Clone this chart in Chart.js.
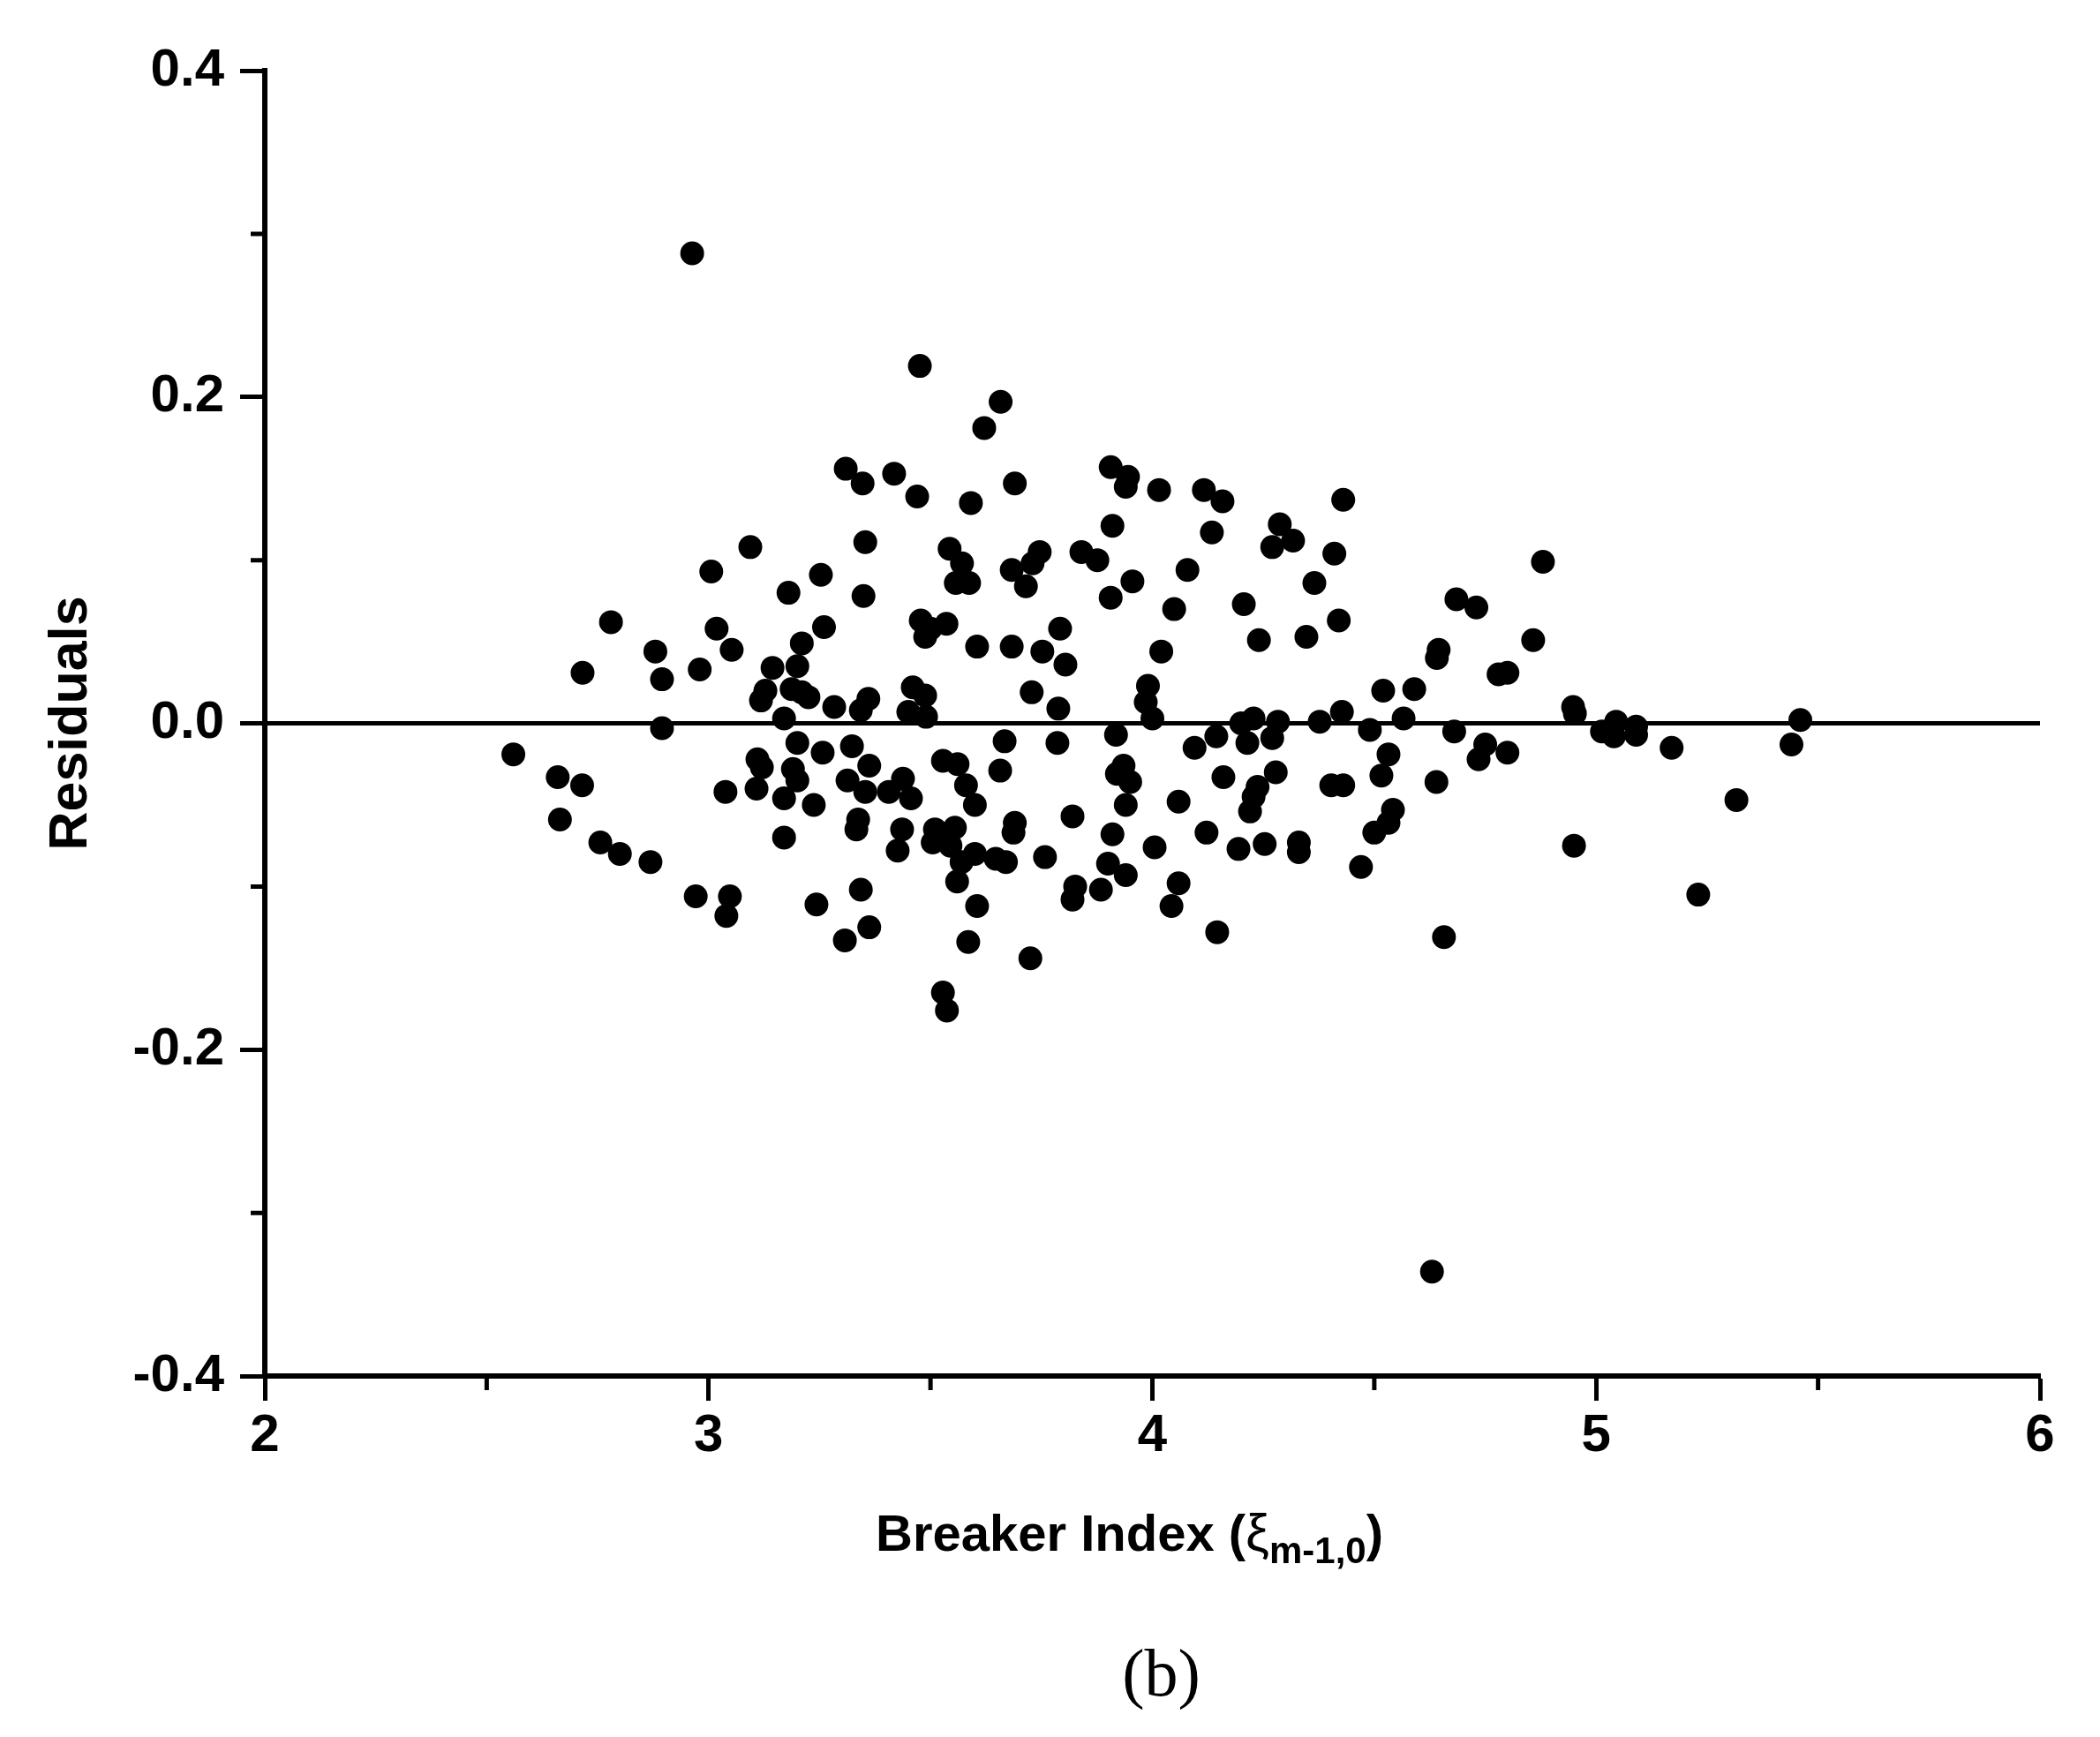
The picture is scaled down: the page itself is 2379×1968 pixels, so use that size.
<!DOCTYPE html>
<html>
<head>
<meta charset="utf-8">
<title>Residuals vs Breaker Index</title>
<script src="https://cdn.jsdelivr.net/npm/chart.js@4.4.1/dist/chart.umd.min.js"></script>
<style>
    html, body { margin: 0; padding: 0; background: #ffffff; }
    #grafico { display: block; }
</style>
</head>
<body>
<canvas id="grafico" width="2379" height="1968"></canvas>
<script>
// Residuos do ajuste em funcao do indice de arrebentacao
var breakerIndex = [
    2.56, 2.66, 2.665, 2.715, 2.716, 2.756, 2.78, 2.80, 2.869, 2.88,
    2.895, 2.895, 2.963, 2.971, 2.98, 3.006, 3.018, 3.038, 3.04, 3.048,
    3.052, 3.094, 3.11, 3.12, 3.108, 3.118, 3.128, 3.144, 3.17, 3.17,
    3.17, 3.18, 3.187, 3.19, 3.20, 3.20, 3.20, 3.21, 3.21, 3.225,
    3.237, 3.243, 3.257, 3.26, 3.253, 3.283, 3.307, 3.309, 3.313, 3.323,
    3.333, 3.337, 3.343, 3.343, 3.347, 3.349, 3.353, 3.353, 3.36, 3.362,
    3.362, 3.406, 3.418, 3.426, 3.436, 3.438, 3.45, 3.456, 3.46, 3.47,
    3.476, 3.478, 3.488, 3.488, 3.49, 3.50, 3.505, 3.51, 3.528, 3.528,
    3.536, 3.537, 3.543, 3.545, 3.555, 3.557, 3.561, 3.56, 3.57, 3.571,
    3.58, 3.585, 3.587, 3.591, 3.60, 3.60, 3.605, 3.605, 3.621, 3.647,
    3.657, 3.658, 3.667, 3.67, 3.683, 3.683, 3.687, 3.69, 3.69, 3.715,
    3.725, 3.728, 3.73, 3.746, 3.752, 3.758, 3.786, 3.788, 3.792, 3.804,
    3.82, 3.82, 3.826, 3.84, 3.876, 3.884, 3.90, 3.906, 3.906, 3.91,
    3.91, 3.918, 3.92, 3.935, 3.95, 3.94, 3.94, 3.94, 3.945, 3.955,
    3.985, 3.99, 4.00, 4.015, 4.02, 4.005, 4.043, 4.049, 4.059, 4.059,
    4.079, 4.095, 4.116, 4.122, 4.134, 4.144, 4.146, 4.158, 4.16, 4.194,
    4.20, 4.206, 4.214, 4.22, 4.228, 4.228, 4.237, 4.24, 4.253, 4.27,
    4.27, 4.278, 4.283, 4.287, 4.317, 4.33, 4.33, 4.347, 4.365, 4.377,
    4.403, 4.41, 4.42, 4.427, 4.43, 4.43, 4.47, 4.49, 4.50, 4.516,
    4.52, 4.532, 4.532, 4.542, 4.566, 4.59, 4.63, 4.64, 4.641, 4.645,
    4.657, 4.68, 4.685, 4.73, 4.735, 4.75, 4.78, 4.80, 4.80, 4.858,
    4.88, 4.948, 4.952, 4.95, 5.013, 5.045, 5.04, 5.09, 5.09, 5.17,
    5.23, 5.316, 5.44, 5.46
];

var residuals = [
    -0.019, -0.033, -0.059, -0.038, 0.031, -0.073, 0.062, -0.080, -0.085, 0.044,
    0.027, -0.003, 0.288, -0.106, 0.033, 0.093, 0.058, -0.042, -0.118, -0.106,
    0.045, 0.108, -0.022, -0.027, -0.040, 0.014, 0.020, 0.034, -0.070, 0.003,
    -0.046, 0.080, 0.021, -0.028, 0.035, -0.012, -0.035, 0.049, 0.019, 0.016,
    -0.050, -0.111, -0.018, 0.059, 0.091, 0.010, -0.133, 0.156, -0.035, -0.014,
    -0.065, -0.059, -0.102, 0.008, 0.147, 0.078, 0.111, -0.042, 0.015, -0.026,
    -0.125, -0.042, 0.153, -0.078, -0.065, -0.034, 0.007, -0.046, 0.022, 0.139,
    0.219, 0.063, 0.053, 0.017, 0.004, 0.058, -0.073, -0.065, -0.023, -0.165,
    0.061, -0.176, 0.107, -0.075, -0.064, 0.086, -0.025, -0.097, -0.085, 0.098,
    -0.038, -0.134, 0.086, 0.135, -0.080, -0.050, 0.047, -0.112, 0.181, -0.083,
    -0.029, 0.197, -0.011, -0.085, 0.094, 0.047, -0.067, -0.061, 0.147, 0.084,
    -0.144, 0.019, 0.098, 0.105, 0.044, -0.082, -0.012, 0.009, 0.058, 0.036,
    -0.057, -0.108, -0.100, 0.105, 0.100, -0.102, -0.086, 0.157, 0.077, 0.121,
    -0.068, -0.007, -0.031, -0.026, -0.036, -0.050, 0.145, -0.093, 0.151, 0.087,
    0.013, 0.023, 0.003, 0.143, 0.044, -0.076, -0.112, 0.070, -0.048, -0.098,
    0.094, -0.015, 0.143, -0.067, 0.117, -0.008, -0.128, 0.136, -0.033, -0.077,
    0.000, 0.073, -0.012, -0.054, 0.003, -0.045, -0.039, 0.051, -0.074, 0.108,
    -0.009, -0.030, 0.001, 0.122, 0.112, -0.073, -0.079, 0.053, 0.086, 0.001,
    -0.038, 0.104, 0.063, 0.007, 0.137, -0.038, -0.088, -0.004, -0.067, -0.032,
    0.020, -0.019, -0.061, -0.053, 0.003, 0.021, -0.336, -0.036, 0.040, 0.045,
    -0.131, -0.005, 0.076, 0.071, -0.022, -0.013, 0.030, 0.031, -0.018, 0.051,
    0.099, 0.010, 0.006, -0.075, -0.005, 0.001, -0.008, -0.002, -0.007, -0.015,
    -0.105, -0.047, -0.013, 0.002
];

// Eixos e rotulos
var xLimites = [2, 6];
var yLimites = [-0.4, 0.4];
var xMinorTicks = [2.5, 3.5, 4.5, 5.5];
var yMinorTicks = [-0.3, -0.1, 0.1, 0.3];
var tituloY = 'Residuals';
var tituloX = ['Breaker Index (', '\u03BE', 'm-1,0', ')'];
var legendaPainel = '(b)';

(function () {
    'use strict';

    var FONTE = '"Liberation Sans", Arial, Helvetica, sans-serif';
    var FONTE_SERIF = '"Liberation Serif", "Times New Roman", serif';

    var pontos = breakerIndex.map(function (x, i) { return { x: x, y: residuals[i] }; });
    var linhaZero = [{ x: xLimites[0], y: 0 }, { x: xLimites[1], y: 0 }];

    /// Desenha os ticks menores nos dois eixos.
    var minorTicksPlugin = {
        id: 'minorTicks',
        afterDraw: function (chart) {
            var ctx = chart.ctx;
            var sx = chart.scales.x;
            var sy = chart.scales.y;
            ctx.save();
            ctx.strokeStyle = '#000';
            ctx.lineWidth = 5;
            ctx.beginPath();
            xMinorTicks.forEach(function (v) {
                var px = sx.getPixelForValue(v);
                ctx.moveTo(px, sx.top);
                ctx.lineTo(px, sx.top + 16);
            });
            yMinorTicks.forEach(function (v) {
                var py = sy.getPixelForValue(v);
                ctx.moveTo(sy.right - 16, py);
                ctx.lineTo(sy.right, py);
            });
            ctx.stroke();
            ctx.restore();
        }
    };

    /// Titulo do eixo x (com subscrito) e legenda do painel.
    var legendasPlugin = {
        id: 'legendas',
        afterDraw: function (chart) {
            var ctx = chart.ctx;
            var area = chart.chartArea;
            var centro = (area.left + area.right) / 2;
            ctx.save();
            ctx.fillStyle = '#000';
            ctx.textBaseline = 'alphabetic';
            ctx.textAlign = 'left';

            var fPrincipal = 'bold 58px ' + FONTE;
            var fGrego = 'normal 60px ' + FONTE;
            var fSub = 'bold 42px ' + FONTE;
            ctx.font = fPrincipal;
            var w0 = ctx.measureText(tituloX[0]).width;
            var w3 = ctx.measureText(tituloX[3]).width;
            ctx.font = fGrego;
            var w1 = ctx.measureText(tituloX[1]).width;
            ctx.font = fSub;
            var w2 = ctx.measureText(tituloX[2]).width;
            var total = w0 + w1 + w2 + w3;
            var x = centro - 26 - total / 2;
            var base = area.bottom + 198;

            ctx.font = fPrincipal;
            ctx.fillText(tituloX[0], x, base);
            x += w0;
            ctx.font = fGrego;
            ctx.fillText(tituloX[1], x, base);
            x += w1;
            ctx.font = fSub;
            ctx.fillText(tituloX[2], x, base + 14);
            x += w2;
            ctx.font = fPrincipal;
            ctx.fillText(tituloX[3], x, base);

            ctx.font = 'normal 76px ' + FONTE_SERIF;
            ctx.textAlign = 'center';
            ctx.fillText(legendaPainel, centro + 10, area.bottom + 362);
            ctx.restore();
        }
    };

    var eixoBorda = { display: true, color: '#000', width: 6 };
    var eixoGrade = {
        display: true,
        drawOnChartArea: false,
        drawTicks: true,
        tickLength: 28,
        tickWidth: 5,
        tickColor: '#000'
    };

    new Chart(document.getElementById('grafico').getContext('2d'), {
        type: 'scatter',
        data: {
            datasets: [
                {
                    type: 'line',
                    data: linhaZero,
                    borderColor: '#000',
                    borderWidth: 5,
                    pointRadius: 0,
                    fill: false,
                    order: 2
                },
                {
                    data: pontos,
                    backgroundColor: '#000',
                    borderWidth: 0,
                    pointRadius: 13.5,
                    pointHoverRadius: 13.5,
                    order: 1
                }
            ]
        },
        options: {
            responsive: false,
            animation: false,
            devicePixelRatio: 1,
            layout: { padding: { top: 80, right: 68, bottom: 0, left: 0 } },
            plugins: {
                legend: { display: false },
                tooltip: { enabled: false }
            },
            scales: {
                x: {
                    type: 'linear',
                    min: xLimites[0],
                    max: xLimites[1],
                    border: eixoBorda,
                    grid: eixoGrade,
                    ticks: {
                        stepSize: 1,
                        color: '#000',
                        padding: 4,
                        font: { family: FONTE, size: 60, weight: 'bold' }
                    },
                    afterFit: function (s) { s.height = 409; }
                },
                y: {
                    type: 'linear',
                    min: yLimites[0],
                    max: yLimites[1],
                    border: eixoBorda,
                    grid: eixoGrade,
                    ticks: {
                        stepSize: 0.2,
                        color: '#000',
                        padding: 18,
                        font: { family: FONTE, size: 60, weight: 'bold' },
                        callback: function (v) { return Number(v).toFixed(1); }
                    },
                    title: {
                        display: true,
                        text: tituloY,
                        color: '#000',
                        font: { family: FONTE, size: 61, weight: 'bold' },
                        padding: { top: 45, bottom: 0 }
                    },
                    afterFit: function (s) { s.width = 300; }
                }
            }
        },
        plugins: [minorTicksPlugin, legendasPlugin]
    });
})();
</script>
</body>
</html>
